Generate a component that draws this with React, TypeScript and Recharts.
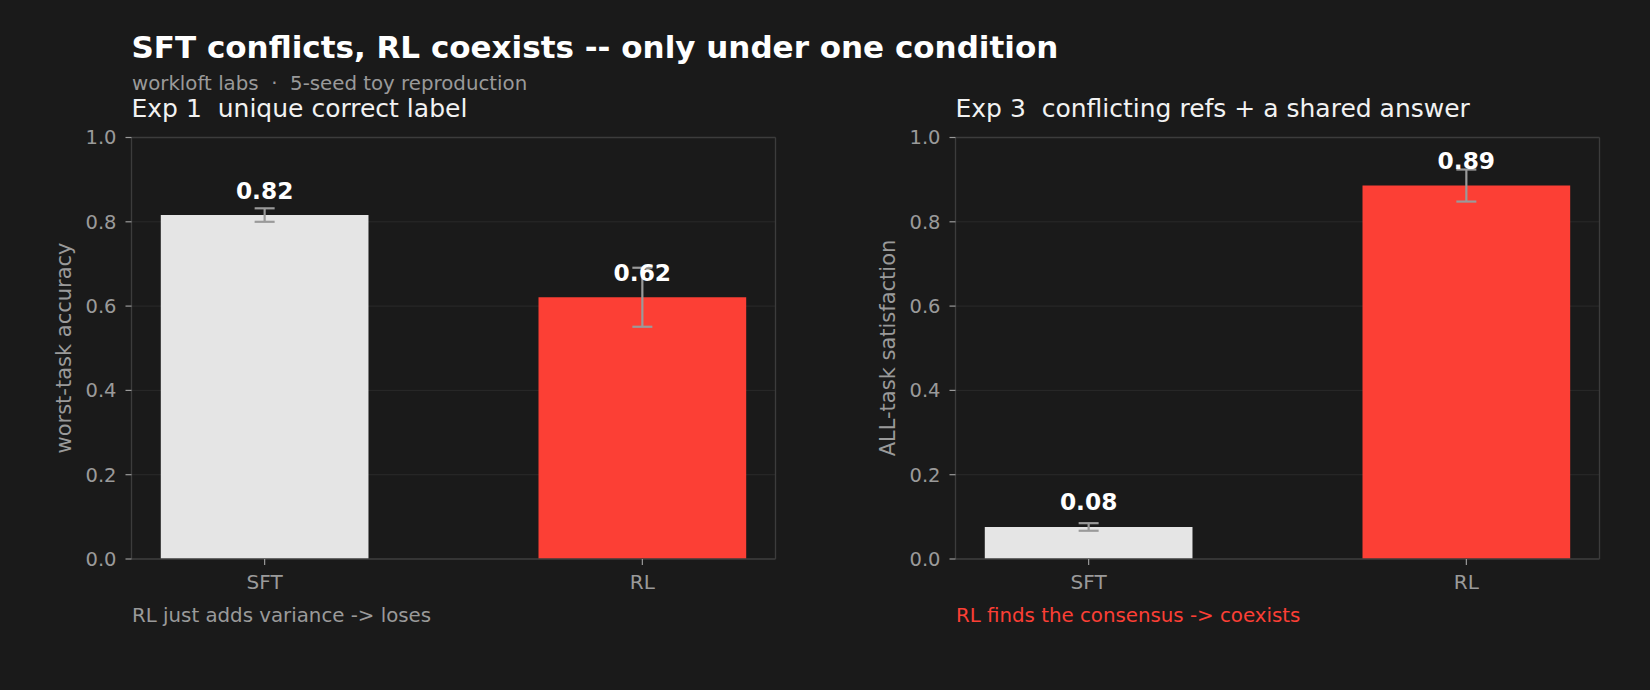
import React from 'react';
import { BarChart, Bar, XAxis, YAxis, CartesianGrid, ErrorBar, LabelList, ReferenceLine, Cell } from 'recharts';

const categories = ['SFT', 'RL'];
const exp1Values = [0.816, 0.621];
const exp1Errors = [0.016, 0.07];
const exp3Values = [0.076, 0.886];
const exp3Errors = [0.009, 0.038];
const yTicks = [0, 0.2, 0.4, 0.6, 0.8, 1.0];
const barColors = ['#e5e5e5', '#fc3f35'];

const FONT = '"DejaVu Sans", sans-serif';
const BG = '#1a1a1a';
const GREY = '#9a9a9a';
const SPINE = '#3c3c3c';
const GRID = '#2a2a2a';
const RED = '#fc3f35';
const X_DOMAIN: [number, number] = [-0.3525, 1.3525];

const buildData = (values: number[], errors: number[]) =>
  categories.map((name, i) => ({ x: i, name, value: values[i], err: errors[i] }));

function Panel({ values, errors, left }: { values: number[]; errors: number[]; left: number }) {
  const data = buildData(values, errors);
  return (
    <div style={{ position: 'absolute', left, top: 0 }}>
      <BarChart width={800} height={690} data={data} margin={{ top: 137.5, right: 24.5, bottom: 71, left: 0 }}>
        <CartesianGrid vertical={false} stroke={GRID} strokeWidth={1} />
        <XAxis
          type="number"
          dataKey="x"
          domain={X_DOMAIN}
          ticks={[0, 1]}
          allowDataOverflow
          tickFormatter={(v: number) => categories[v]}
          height={60}
          tickSize={6}
          tickMargin={10}
          axisLine={{ stroke: SPINE, strokeWidth: 1.3 }}
          tickLine={{ stroke: GREY, strokeWidth: 1.2 }}
          tick={{ fill: GREY, fontSize: 20, fontFamily: FONT }}
        />
        <YAxis
          type="number"
          domain={[0, 1]}
          ticks={yTicks}
          allowDataOverflow
          tickFormatter={(v: number) => v.toFixed(1)}
          width={131.5}
          tickSize={6}
          tickMargin={9}
          axisLine={{ stroke: SPINE, strokeWidth: 1.3 }}
          tickLine={{ stroke: GREY, strokeWidth: 1.2 }}
          tick={{ fill: GREY, fontSize: 19.5, fontFamily: FONT }}
        />
        <Bar dataKey="value" barSize={207.7} isAnimationActive={false}>
          {data.map((d, i) => (
            <Cell key={d.name} fill={barColors[i]} />
          ))}
          <ErrorBar dataKey="err" direction="y" width={10} strokeWidth={2.2} stroke={GREY} />
          <LabelList
            dataKey="value"
            position="top"
            offset={16.5}
            formatter={(v: any) => Number(v).toFixed(2)}
            fill="#ffffff"
            fontSize={23.3}
            fontWeight="bold"
            fontFamily={FONT}
          />
        </Bar>
        <ReferenceLine y={1} stroke={SPINE} strokeWidth={1.3} ifOverflow="visible" />
        <ReferenceLine x={X_DOMAIN[1]} stroke={SPINE} strokeWidth={1.3} ifOverflow="visible" />
      </BarChart>
    </div>
  );
}

const pre = { whiteSpace: 'pre' as const };

export default function App() {
  return (
    <div style={{ position: 'fixed', left: 0, top: 0, width: 1650, height: 690, background: BG, overflow: 'hidden' }}>
      <Panel values={exp1Values} errors={exp1Errors} left={0} />
      <Panel values={exp3Values} errors={exp3Errors} left={824} />
      <svg width={1650} height={690} style={{ position: 'absolute', left: 0, top: 0, pointerEvents: 'none' }}>
        <g fontFamily={FONT}>
          <text x={131.5} y={58.3} fontSize={31} fontWeight="bold" fill="#ffffff" xmlSpace="preserve" style={pre}>
            SFT conflicts, RL coexists -- only under one condition
          </text>
          <text x={132} y={90} fontSize={19.8} fill={GREY} xmlSpace="preserve" style={pre}>
            {'workloft labs  \u00b7  5-seed toy reproduction'}
          </text>
          <text x={131.5} y={116.5} fontSize={25} fill="#f2f2f2" xmlSpace="preserve" style={pre}>
            {'Exp 1  unique correct label'}
          </text>
          <text x={955.5} y={116.5} fontSize={25} fill="#f2f2f2" xmlSpace="preserve" style={pre}>
            {'Exp 3  conflicting refs + a shared answer'}
          </text>
          <text
            x={0}
            y={0}
            fontSize={21}
            fill={GREY}
            textAnchor="middle"
            transform="translate(71,348) rotate(-90)"
          >
            worst-task accuracy
          </text>
          <text
            x={0}
            y={0}
            fontSize={21}
            fill={GREY}
            textAnchor="middle"
            transform="translate(895,348) rotate(-90)"
          >
            ALL-task satisfaction
          </text>
          <text x={132} y={622} fontSize={19.8} fill={GREY} xmlSpace="preserve" style={pre}>
            {'RL just adds variance -> loses'}
          </text>
          <text x={956} y={622} fontSize={19.8} fill={RED} xmlSpace="preserve" style={pre}>
            {'RL finds the consensus -> coexists'}
          </text>
        </g>
      </svg>
    </div>
  );
}
